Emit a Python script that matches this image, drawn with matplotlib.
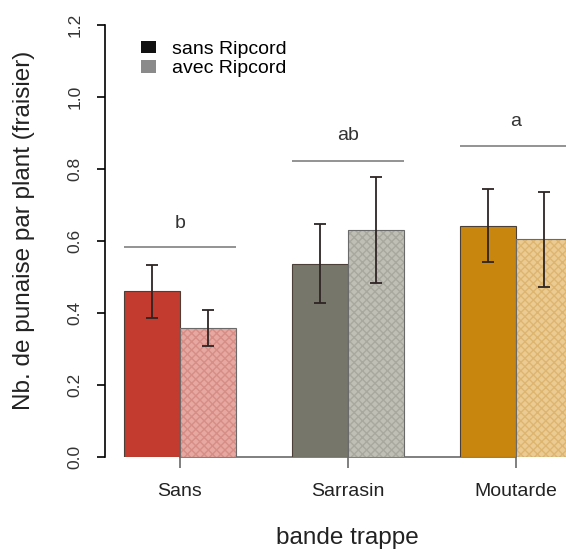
import numpy as np
import matplotlib
matplotlib.use('Agg')
import matplotlib.pyplot as plt
from matplotlib.patches import Patch

plt.rcParams['font.family'] = ['Liberation Sans', 'DejaVu Sans']
plt.rcParams['hatch.linewidth'] = 1.0

# donnees
groupes = ['Sans', 'Sarrasin', 'Moutarde']
moy_sans_rip = [0.46, 0.537, 0.643]
se_sans_rip = [0.074, 0.11, 0.102]
moy_avec_rip = [0.358, 0.63, 0.605]
se_avec_rip = [0.05, 0.147, 0.132]
lettres = ['b', 'ab', 'a']
h_ligne = [0.584, 0.823, 0.865]
h_lettre = [0.65, 0.894, 0.931]

col_fonce = ['#C23B2E', '#77766A', '#C8860E']
col_clair = ['#E6A8A1', '#C0BFB6', '#EBCB92']
col_hatch = ['#D68E86', '#A9A89E', '#DDB571']

W, H = 566, 552
fig = plt.figure(figsize=(W / 100, H / 100), dpi=100)
x0_px, x_unit = 68, 56
ax = fig.add_axes([105 / W, (H - 457) / H, 1 - 105 / W, (457 - 25) / H])
ax.set_xlim((105 - x0_px) / x_unit, (W - x0_px) / x_unit)
ax.set_ylim(0, 1.2)

centres = np.array([2, 5, 8])
x_f = centres - 0.5
x_c = centres + 0.5

ax.bar(x_f, moy_sans_rip, width=1, color=col_fonce, edgecolor='#4a4038', linewidth=0.8, zorder=2)
# barres claires avec motif
ax.bar(x_c, moy_avec_rip, width=1, color=col_clair, edgecolor=col_hatch, linewidth=0,
       hatch='xxxx', zorder=2)
ax.bar(x_c, moy_avec_rip, width=1, color='none', edgecolor='#6a6a6a', linewidth=0.8, zorder=2)

ax.errorbar(x_f, moy_sans_rip, yerr=se_sans_rip, fmt='none', ecolor='#2e2424',
            elinewidth=1.3, capsize=4.5, capthick=1.3, zorder=3)
ax.errorbar(x_c, moy_avec_rip, yerr=se_avec_rip, fmt='none', ecolor='#2e2424',
            elinewidth=1.3, capsize=4.5, capthick=1.3, zorder=3)

ax.hlines(h_ligne, centres - 1, centres + 1, color='#8a8a8a', linewidth=1.3, zorder=3)
for c, h, l in zip(centres, h_lettre, lettres):
    ax.text(c, h, l, ha='center', va='center', fontsize=14, color='#333333')

# axes
for s in ['top', 'right']:
    ax.spines[s].set_visible(False)
ax.spines['left'].set_bounds(0, 1.2)
ax.spines['left'].set_linewidth(1.2)
ax.spines['bottom'].set_bounds(2, 8)
ax.spines['bottom'].set_color('#6a6a6a')
ax.spines['bottom'].set_linewidth(1.2)
ax.spines['bottom'].set_zorder(1)

ax.set_yticks(np.arange(0, 1.21, 0.2))
ax.set_yticklabels(['%.1f' % v for v in np.arange(0, 1.21, 0.2)], rotation=90, va='center',
                   fontsize=12.5, color='#333333')
ax.tick_params(axis='y', length=6, width=1.2, pad=10)
ax.set_xticks(centres)
ax.set_xticklabels(groupes, fontsize=14, color='#222222')
ax.tick_params(axis='x', length=8, width=1.2, color='#6a6a6a', pad=11)

fig.text(347 / W, 1 - 538 / H, 'bande trappe', ha='center', va='center', fontsize=17.5, color='#222222')
fig.text(24 / W, 1 - 230 / H, 'Nb. de punaise par plant (fraisier)', ha='center', va='center',
         rotation=90, fontsize=17.5, color='#222222')

poignees = [Patch(facecolor='#111111', edgecolor='none'), Patch(facecolor='#8a8a8a', edgecolor='none')]
ax.legend(poignees, ['sans Ripcord', 'avec Ripcord'], loc='upper left',
          bbox_to_anchor=(141 / W, 1 - 41 / H), bbox_transform=fig.transFigure,
          frameon=False, fontsize=14, handlelength=0.75, handleheight=0.6,
          handletextpad=0.85, labelspacing=0.12, borderpad=0, borderaxespad=0)

fig.savefig('out.png', dpi=100)
